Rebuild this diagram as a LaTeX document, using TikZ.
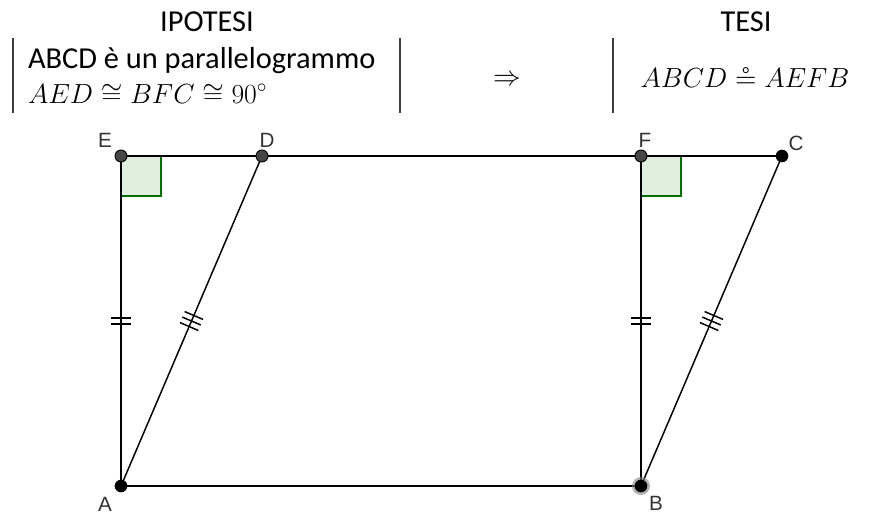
\documentclass[tikz,border=0pt]{standalone}
\usepackage{amsmath,amssymb}
\usepackage{fontspec}
\setmainfont{Carlito}
\newfontfamily\ptfont{Liberation Sans}
\usetikzlibrary{decorations.markings}
\definecolor{angleGreen}{RGB}{0,110,0}
\definecolor{pointGray}{RGB}{70,70,70}
\definecolor{barGray}{RGB}{60,60,60}

\begin{document}
\begin{tikzpicture}[x=0.75pt, y=-0.75pt,
  every node/.style={inner sep=0pt, outer sep=0pt},
  hyp/.style={font=\fontsize{22.8}{26}\selectfont},
  hypmath/.style={font=\fontsize{20.74}{24}\selectfont},
  ptlabel/.style={font=\ptfont\fontsize{15.5}{18}\selectfont, text=black!80},
  seg/.style={line width=1.1pt},
  bar/.style={draw=barGray, line width=1pt},
  ptdark/.style={circle, fill=pointGray, draw=black, line width=0.7pt, minimum size=9pt},
  ptblack/.style={circle, fill=black, minimum size=9.5pt},
  rightang/.style={draw=angleGreen, fill=angleGreen!12, line width=0.9pt},
  twoticks/.style={postaction={decorate, decoration={markings,
      mark=at position 0.5 with {\draw[line width=1.1pt] (-3,-10) -- (-3,10) (3,-10) -- (3,10);}}}},
  threeticks/.style={postaction={decorate, decoration={markings,
      mark=at position 0.5 with {\draw[line width=1.1pt] (-6,-10) -- (-6,10) (0,-10) -- (0,10) (6,-10) -- (6,10);}}}},
]
\useasboundingbox (0,0) rectangle (872,518);

% Header: hypothesis and thesis
\node[hyp] (ipotesi) at (207,22) {IPOTESI};
\node[hyp, anchor=base west] (hyp1) at (28,68) {ABCD è un parallelogrammo};
\node[hypmath, anchor=base west] (hyp2) at (28,103) {$AED \cong BFC \cong 90^\circ$};
\node[hypmath] (implies) at (507,80) {$\Rightarrow$};
\node[hyp] (tesi) at (746,22) {TESI};
\node[hypmath, anchor=base] (thesis) at (745,87) {$ABCD \circeq AEFB$};
\draw[bar] (13,38) -- (13,113);
\draw[bar] (400,38) -- (400,113);
\draw[bar] (613,38) -- (613,113);

% Points
\coordinate (A) at (121,486);
\coordinate (B) at (641,486);
\coordinate (C) at (782,156);
\coordinate (D) at (262,156);
\coordinate (E) at (121,156);
\coordinate (F) at (641,156);

% Right angles
\filldraw[rightang] (E) rectangle (161,196);
\filldraw[rightang] (F) rectangle (681,196);

% Sides
\draw[seg] (E) -- (C);
\draw[seg] (A) -- (B);
\draw[seg, twoticks] (A) -- (E);
\draw[seg, twoticks] (B) -- (F);
\draw[seg, threeticks] (A) -- (D);
\draw[seg, threeticks] (B) -- (C);

% Dots
\fill[gray, opacity=0.6] (B) circle (9);
\node[ptdark] (pE) at (E) {};
\node[ptdark] (pD) at (D) {};
\node[ptdark] (pF) at (F) {};
\node[ptblack] (pC) at (C) {};
\node[ptblack] (pA) at (A) {};
\node[ptblack] (pB) at (B) {};

% Labels
\node[ptlabel] (lE) at (105,140) {E};
\node[ptlabel] (lD) at (267,140) {D};
\node[ptlabel] (lF) at (645,140) {F};
\node[ptlabel] (lC) at (796,143) {C};
\node[ptlabel] (lA) at (105,504) {A};
\node[ptlabel] (lB) at (656,503) {B};

\end{tikzpicture}
\end{document}
